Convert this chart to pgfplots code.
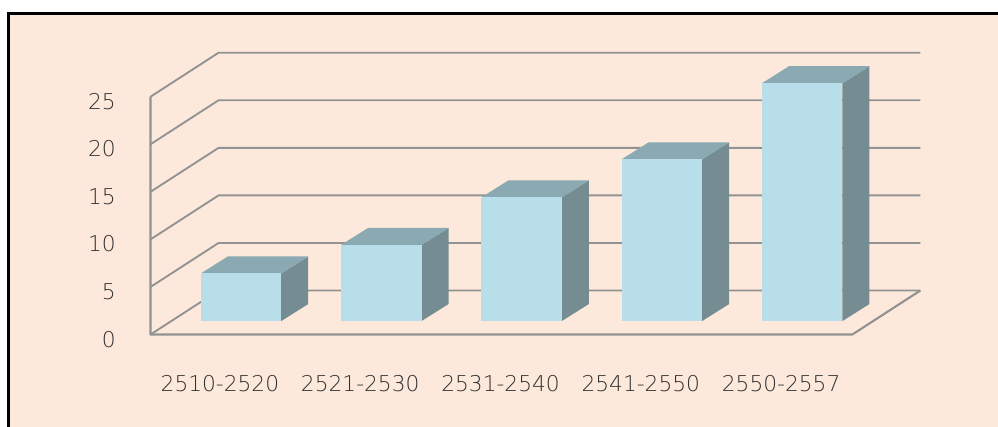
\documentclass[border=0pt]{standalone}
\usepackage{fontspec}
\setmainfont{DejaVu Sans ExtraLight}
\usepackage{pgfplots}
\usepackage{pgfplotstable}
\pgfplotsset{compat=1.18}

\definecolor{panel}{HTML}{FDE9DB}
\definecolor{barfront}{HTML}{B8DEE9}
\definecolor{bartop}{HTML}{8AA9B2}
\definecolor{barside}{HTML}{758C93}
\definecolor{wall}{HTML}{929292}
\definecolor{labeltext}{HTML}{303030}

% Corners of one cuboid: offset in x, offset in y, share of the value
\pgfplotstableread{
dx      dy     k
-0.2869 0      0
0.2869  0      0
0.2869  0      1
-0.2869 0      1
}\frontface
\pgfplotstableread{
dx      dy     k
0.2869  0      0
0.4793  1.787  0
0.4793  1.787  1
0.2869  0      1
}\sideface
\pgfplotstableread{
dx      dy     k
-0.2869 0      1
0.2869  0      1
0.4793  1.787  1
-0.0945 1.787  1
}\topface
% One gridline: along the side wall, then along the back wall
\pgfplotstableread{
x       y
-0.645  0
-0.160  4.626
4.842   4.626
}\wallline

% #1 category position, #2 value
\newcommand{\cuboid}[2]{%
  \addplot[draw=none,fill=barside] table[x expr=#1+\thisrow{dx},y expr=1.419+\thisrow{dy}+#2*\thisrow{k}] {\sideface};
  \addplot[draw=none,fill=bartop] table[x expr=#1+\thisrow{dx},y expr=1.419+\thisrow{dy}+#2*\thisrow{k}] {\topface};
  \addplot[draw=none,fill=barfront] table[x expr=#1+\thisrow{dx},y expr=1.419+\thisrow{dy}+#2*\thisrow{k}] {\frontface};
}
\newcommand{\gridat}[1]{%
  \addplot[wall,line width=1.4pt,line join=round] table[x=x,y expr=#1+\thisrow{y}] {\wallline};
}

\begin{document}
\begin{tikzpicture}
\begin{axis}[
  scale only axis,
  width=748.5pt,height=320.25pt,
  xmin=-1.7177,xmax=5.3956,
  ymin=-9.72,ymax=35.17,
  clip=false,
  axis on top,
  axis line style={draw=none},
  tick style={draw=none},
  major tick length=0pt,
  /pgf/number format/assume math mode=true,
  xtick={0,1,2,3,4},
  xticklabels={2510-2520,2521-2530,2531-2540,2541-2550,2550-2557},
  ytick={0,5,10,15,20,25},
  tick label style={font=\fontsize{16.3}{18}\selectfont,text=labeltext},
  yticklabel style={anchor=east,xshift=90.3pt,yshift=-3.5pt},
  xticklabel style={anchor=center,xshift=-15.8pt,yshift=32.5pt},
]
  % panel and its frame
  \addplot[draw=none,fill=panel] coordinates {(-1.657,-9.72)(5.3956,-9.72)(5.3956,33.75)(-1.657,33.75)};
  \addplot[black,line width=2pt] coordinates {(-1.657,-9.72)(-1.657,33.75)(5.3956,33.75)};

  % walls and floor
  \gridat{0}\gridat{5}\gridat{10}\gridat{15}\gridat{20}\gridat{25}
  \addplot[wall,line width=1.6pt,line join=round] coordinates {(-0.645,25)(-0.645,0)(4.357,0)(4.842,4.626)};

  % bars
  \cuboid{0}{5}
  \cuboid{1}{8}
  \cuboid{2}{13}
  \cuboid{3}{17}
  \cuboid{4}{25}
\end{axis}
\pgfresetboundingbox
\path (current axis.south west) rectangle (current axis.north east);
\end{tikzpicture}
\end{document}
